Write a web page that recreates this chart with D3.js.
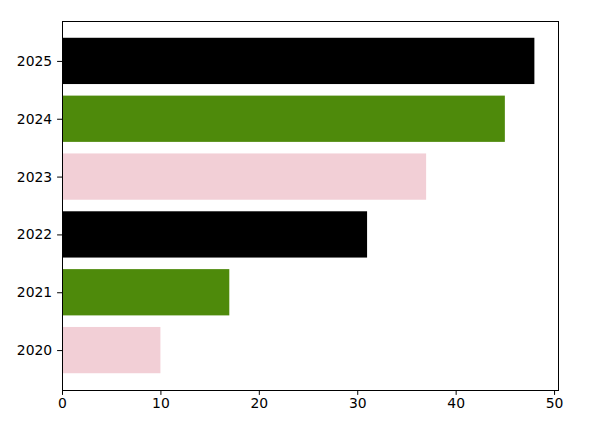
<!DOCTYPE html>
<html><head><meta charset="utf-8">
<script src="https://cdn.jsdelivr.net/npm/d3@7"></script>
<style>body{margin:0;background:#fff}svg{display:block}text{font-family:"DejaVu Sans",sans-serif}</style>
</head><body><svg id="c" width="589" height="428"></svg>
<script>
const categories = ["2020","2021","2022","2023","2024","2025"];
const values = [10, 17, 31, 37, 45, 48];
const colors = ["#f2cfd6","#4e8a0b","#000000","#f2cfd6","#4e8a0b","#000000"];
const xTicks = [0,10,20,30,40,50];

const svg = d3.select("#c");
const L=62, R=558, T=21, B=390;
const xMax = d3.max(values)*1.05;
const x = d3.scaleLinear().domain([0,xMax]).range([L,R]);
const y = d3.scaleLinear().domain([-0.69, 5.69]).range([B,T]);
const bh = y(0) - y(0.8);

svg.selectAll("rect.bar").data(values).enter().append("rect")
  .attr("x", x(0)).attr("y",(d,i)=>y(i+0.4)).attr("width",d=>x(d)-x(0)).attr("height",bh)
  .attr("fill",(d,i)=>colors[i]);

svg.append("rect").attr("x",L).attr("y",T).attr("width",R-L).attr("height",B-T)
  .attr("fill","none").attr("stroke","#000").attr("stroke-width",1).attr("shape-rendering","crispEdges");

const xa = svg.append("g").attr("transform",`translate(0,${B})`)
  .call(d3.axisBottom(x).tickValues(xTicks).tickSize(4.9).tickPadding(3.5).tickFormat(d3.format("d")));
const ya = svg.append("g").attr("transform",`translate(${L},0)`)
  .call(d3.axisLeft(y).tickValues(d3.range(6)).tickSize(4.9).tickPadding(4.9).tickFormat(i=>categories[i]));
[xa,ya].forEach(a=>{a.select(".domain").remove();a.selectAll("text").style("font-size","13.9px").attr("fill","#000");a.selectAll("line").attr("stroke","#000");});
</script></body></html>
